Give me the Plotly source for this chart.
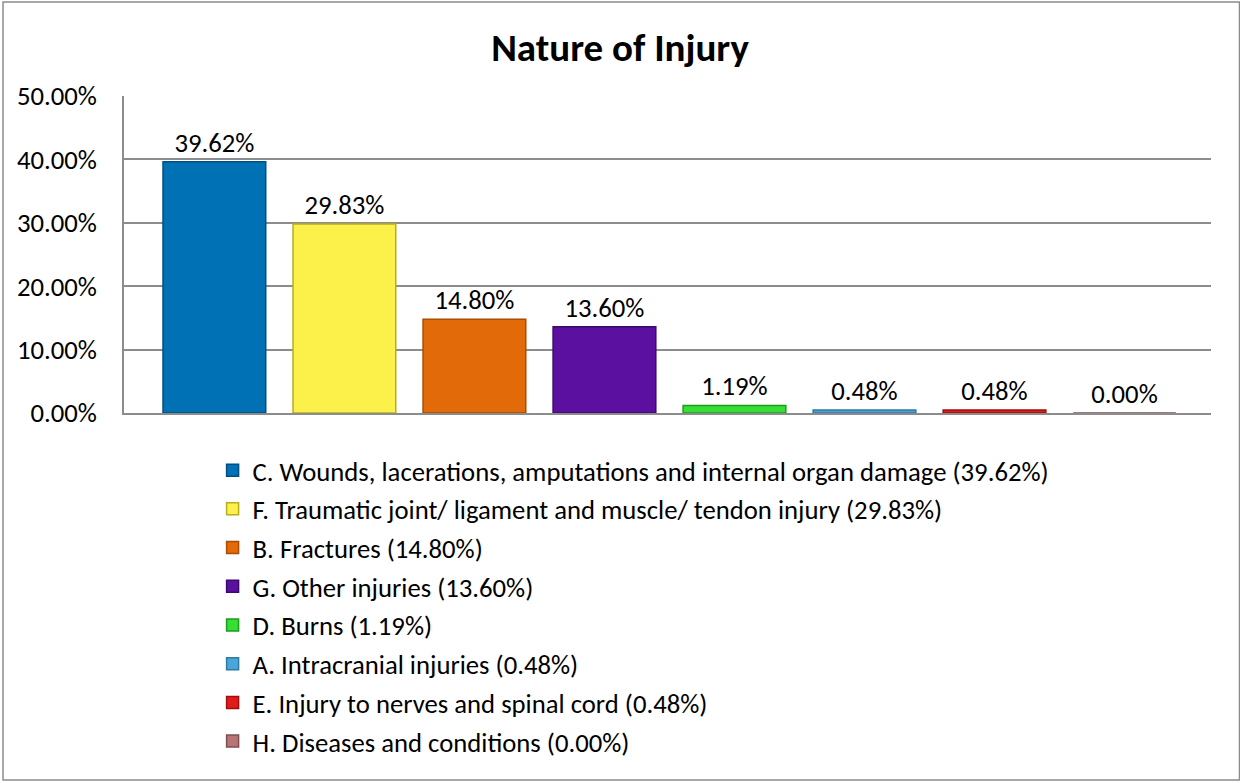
import plotly.graph_objects as go

# data, in legend order
codes = ["C", "F", "B", "G", "D", "A", "E", "H"]
names = [
    "C. Wounds, lacerations, amputations and internal organ damage",
    "F. Traumatic joint/ ligament and muscle/ tendon injury",
    "B. Fractures",
    "G. Other injuries",
    "D. Burns",
    "A. Intracranial injuries",
    "E. Injury to nerves and spinal cord",
    "H. Diseases and conditions",
]
shares = [0.3962, 0.2983, 0.1480, 0.1360, 0.0119, 0.0048, 0.0048, 0.0000]
y_ticks = [0, 0.1, 0.2, 0.3, 0.4, 0.5]

fill_colors = ["#0071b5", "#fcf04a", "#e36a08", "#5b10a0", "#34e034",
               "#4aa6d8", "#e41a1a", "#b87575"]
edge_colors = ["#004f80", "#b8ad20", "#a84d05", "#3c0a6b", "#1f9a1f",
               "#2f7aa3", "#9c1010", "#7d4f4f"]

font_main = "Calibri, Carlito, Lato, sans-serif"
grid_grey = "#8c8c8c"

fig = go.Figure()
for i in range(len(codes)):
    fig.add_trace(
        go.Bar(
            x=[codes[i]],
            y=[shares[i]],
            name="{} ({:.2%})".format(names[i], shares[i]),
            legendgroup=codes[i],
            width=0.79,
            marker=dict(color=fill_colors[i], line=dict(color=edge_colors[i], width=1.5)),
            text=["{:.2%}".format(shares[i])],
            textposition="outside",
            textfont=dict(family=font_main, size=26.7, color="black"),
            cliponaxis=False,
        )
    )

# outer chart border
fig.add_shape(
    type="rect", xref="paper", yref="paper",
    x0=-0.1113, x1=1.0262, y0=-1.158, y1=1.2965,
    line=dict(color=grid_grey, width=1.5), layer="below",
)

fig.update_layout(
    title=dict(
        text="<b>Nature of Injury</b>",
        x=0.5, xanchor="center", y=0.94, yanchor="middle",
        font=dict(family=font_main, size=39, color="black"),
    ),
    barmode="overlay",
    width=1240,
    height=783,
    margin=dict(l=124, r=29, t=96, b=370),
    paper_bgcolor="white",
    plot_bgcolor="white",
    xaxis=dict(
        categoryorder="array",
        categoryarray=codes,
        range=[-0.695, 7.665],
        showticklabels=False,
        showgrid=False,
        showline=True,
        linecolor=grid_grey,
        linewidth=1.5,
        ticks="",
    ),
    yaxis=dict(
        range=[0, 0.5],
        tickvals=y_ticks,
        tickformat=".2%",
        tickfont=dict(family=font_main, size=26.7, color="black"),
        showgrid=True,
        gridcolor=grid_grey,
        gridwidth=1.5,
        zeroline=False,
        showline=True,
        linecolor=grid_grey,
        linewidth=1.5,
        ticks="",
        ticklabelstandoff=20,
    ),
    showlegend=True,
    legend=dict(
        x=0.0815, xanchor="left",
        y=-0.105, yanchor="top",
        orientation="v",
        traceorder="grouped",
        tracegroupgap=1,
        font=dict(family=font_main, size=26.7, color="black"),
        bgcolor="rgba(0,0,0,0)",
    ),
)

# drop the default page margin so the figure sits at the window's corner
fig.write_html(
    "out.html",
    config={"displayModeBar": False},
    post_script="document.body.style.margin='0';",
)
